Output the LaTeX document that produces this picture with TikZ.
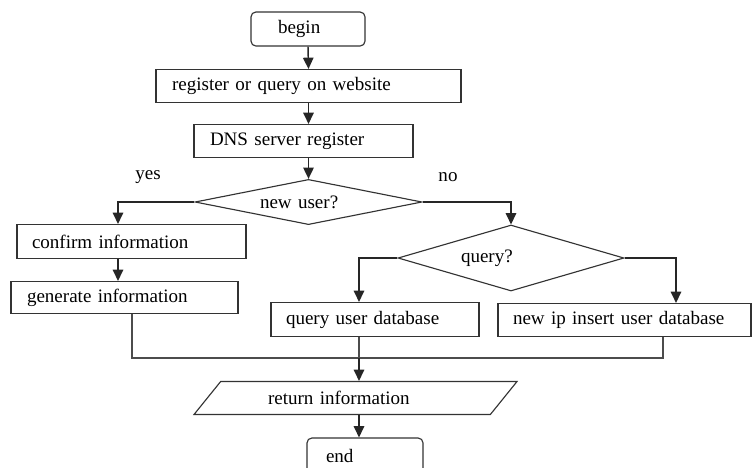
\documentclass[tikz,border=0pt]{standalone}
\usepackage{fontspec}
\setmainfont{Liberation Serif}
\usepackage{tikz}
\usetikzlibrary{arrows.meta,calc,positioning,shapes.geometric}
\newlength{\pxu}
\setlength{\pxu}{0.62pt}
\tikzset{
  terminal/.style={draw=black!80, line width=0.7pt, rounded corners=3pt, fill=white, minimum height=34\pxu, inner xsep=0pt, inner ysep=1pt, align=left, font=\fontsize{11.8}{14}\selectfont},
  process/.style={draw=black!80, line width=0.7pt, fill=white, minimum height=33\pxu, inner xsep=0pt, inner ysep=1pt, align=left, font=\fontsize{11.8}{14}\selectfont},
  decision/.style={draw=black!80, line width=0.7pt, diamond, aspect=3, inner sep=0pt, align=left, font=\fontsize{11.8}{14}\selectfont},
  io/.style={draw=black!80, line width=0.7pt, trapezium, trapezium left angle=27, trapezium right angle=153, trapezium stretches body, inner sep=0pt, align=left, font=\fontsize{11.8}{14}\selectfont},
  flow/.style={-{Triangle[length=7pt,width=6.5pt]}, line width=0.9pt, black!85},
  link/.style={line width=0.8pt, black!70}
}
\begin{document}
\begin{tikzpicture}[x=\pxu,y=-\pxu]
  \clip (0,0) rectangle (752,467);
  \fill[white] (0,0) rectangle (752,467);

  \node[terminal, minimum width=114\pxu, text width=60\pxu] (begin) at (308,29) {begin};
  \node[process, minimum width=305\pxu, text width=273\pxu] (website) at (308.5,86) {register or query on website};
  \node[process, minimum width=219\pxu, text width=187\pxu] (dns) at (303.5,141) {DNS server register};
  \node[decision, minimum width=227\pxu, minimum height=44\pxu, text width=97\pxu] (newuser) at (308.5,202) {new user?};

  \node[process, minimum width=229\pxu, minimum height=34\pxu, text width=199\pxu] (confirm) at (131.5,241.5) {confirm information};
  \node[process, minimum width=227\pxu, minimum height=32\pxu, text width=195\pxu] (generate) at (124.5,297.5) {generate information};

  \node[decision, minimum width=226\pxu, minimum height=66\pxu, text width=100\pxu] (query) at (511,258) {query?};
  \node[process, minimum width=208\pxu, minimum height=34\pxu, text width=178\pxu] (querydb) at (375,319.5) {query user database};
  \node[process, minimum width=253\pxu, text width=223\pxu] (insertdb) at (624.5,320) {new ip insert user database};

  \node[io, minimum width=323\pxu, minimum height=33\pxu, text width=175\pxu] (ret) at (355.5,398) {return information};
  \node[terminal, minimum width=116\pxu, minimum height=36\pxu, text width=78\pxu] (end) at (365,456) {end};

  \node[font=\fontsize{11.8}{14}\selectfont] (yes) at (148,177) {yes};
  \node[font=\fontsize{11.8}{14}\selectfont] (no) at (448,177) {no};

  \coordinate (merge) at (359,358);

  \draw[flow] (begin.south) -- (website.north);
  \draw[flow] (website.south) -- (website.south |- dns.north);
  \draw[flow] (newuser.north |- dns.south) -- (newuser.north);
  \draw[flow] (newuser.west) -| ($(confirm.north)+(-13.5,0)$);
  \draw[flow] ($(confirm.south)+(-13.5,0)$) -- ($(generate.north)+(-6.5,0)$);
  \draw[flow] (newuser.east) -| (query.north);
  \draw[flow] (query.west) -| (merge |- querydb.north);
  \draw[flow] (query.east) -| ($(insertdb.north)+(51.5,0)$);

  \draw[link] ($(generate.south)+(7.5,0)$) |- (merge) -| ($(insertdb.south)+(38.5,0)$);
  \draw[link] (merge |- querydb.south) -- (merge);
  \draw[flow] (merge) -- (merge |- ret.north);
  \draw[flow] (merge |- ret.south) -- (merge |- end.north);
\end{tikzpicture}
\end{document}
